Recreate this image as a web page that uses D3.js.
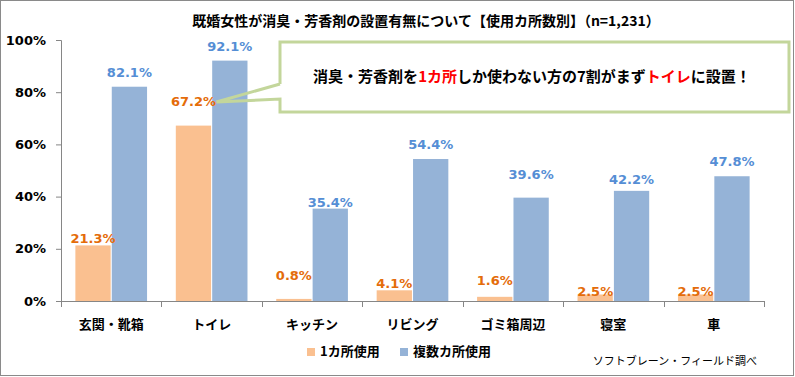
<!DOCTYPE html>
<html><head><meta charset="utf-8">
<script src="https://cdn.jsdelivr.net/npm/d3@7"></script>
<style>
html,body{margin:0;padding:0;background:#fff;}
svg{display:block;}
</style></head>
<body>
<svg id="chart" width="795" height="377"></svg>
<script>
// ---- data ----
const categories = ["玄関・靴箱","トイレ","キッチン","リビング","ゴミ箱周辺","寝室","車"];
const seriesNames = ["1カ所使用","複数カ所使用"];
const singleUse = [21.3, 67.2, 0.8, 4.1, 1.6, 2.5, 2.5];
const multiUse  = [82.1, 92.1, 35.4, 54.4, 39.6, 42.2, 47.8];
const yTicks = [0, 20, 40, 60, 80, 100];
const titleText = "既婚女性が消臭・芳香剤の設置有無について【使用カ所数別】（n=1,231）";
const sourceText = "ソフトブレーン・フィールド調べ";
const calloutParts = [["消臭・芳香剤を",false],["1カ所",true],["しか使わない方の7割がまず",false],["トイレ",true],["に設置！",false]];

// ---- layout (label nudges in px, not data) ----
const liftSingle = [2, 20, 19, 2, 12, -2, -2];
const liftMulti  = [10, 10, 2, 10, 19, 7, 10];

const svg = d3.select("#chart");
const W = 795, H = 377;
const colors = ["#FAC090", "#95B3D7"];
const labelColors = ["#E46C0A", "#558ED5"];
const jp = "'Noto Sans CJK JP', 'Noto Sans', sans-serif";
const num = "'DejaVu Sans', Verdana, sans-serif";

svg.append("rect").attr("x",0.5).attr("y",0.5).attr("width",W-2).attr("height",H-2)
  .attr("fill","#fff").attr("stroke","#8a8a8a");

const x0 = d3.scaleBand().domain(categories).range([61, 764]).paddingInner(0).paddingOuter(0);
const x1 = d3.scaleBand().domain([0,1]).range([0, x0.bandwidth()]).paddingInner(0.03).paddingOuter(0.395);
const y = d3.scaleLinear().domain([0, 100]).range([301, 40]);

// title
svg.append("text").attr("x", 426).attr("y", 26).attr("text-anchor","middle")
  .attr("font-family", jp).attr("font-weight","bold").attr("font-size",14).attr("fill","#000")
  .text(titleText);

// y axis
const yAxis = d3.axisLeft(y).tickValues(yTicks).tickFormat(d => d + "%").tickSize(5).tickPadding(10);
const gy = svg.append("g").attr("transform","translate(61,0)").call(yAxis);
gy.select(".domain").attr("stroke","#868686");
gy.selectAll(".tick line").attr("stroke","#868686");
gy.selectAll(".tick text").attr("font-family", num).attr("font-weight","bold").attr("font-size",13).attr("fill","#000");

// x axis
const gx = svg.append("g").attr("transform","translate(0,301)");
gx.append("line").attr("x1",61).attr("x2",764).attr("y1",0.5).attr("y2",0.5).attr("stroke","#868686");
const bounds = categories.map(c => x0(c)).concat([x0(categories[categories.length-1]) + x0.bandwidth()]);
gx.selectAll("line.tk").data(bounds).join("line").attr("class","tk")
  .attr("x1", d => Math.round(d)+0.5).attr("x2", d => Math.round(d)+0.5).attr("y1",0).attr("y2",6).attr("stroke","#868686");
gx.selectAll("text").data(categories).join("text")
  .attr("x", d => x0(d) + x0.bandwidth()/2).attr("y", 28).attr("text-anchor","middle")
  .attr("font-family", jp).attr("font-weight","bold").attr("font-size",13).attr("fill","#000")
  .text(d => d);

// bars
const series = [singleUse, multiUse];
const lifts = [liftSingle, liftMulti];
series.forEach((vals, s) => {
  svg.append("g").selectAll("rect").data(vals).join("rect")
    .attr("x", (d,i) => x0(categories[i]) + x1(s))
    .attr("width", x1.bandwidth())
    .attr("y", d => y(d))
    .attr("height", d => y(0) - y(d))
    .attr("fill", colors[s]);
});

// callout
const cg = svg.append("g");
cg.append("rect").attr("x",280).attr("y",42).attr("width",509).attr("height",70).attr("fill","#fff");
const tipX = x0(categories[1]) + x1(0) + x1.bandwidth()/2 + 23;
cg.append("path")
  .attr("d", `M280,84 L280,42 L789,42 L789,112 L280,112 L280,99 L${tipX},102 L280,84`)
  .attr("fill","none").attr("stroke","#C3D69B").attr("stroke-width",3).attr("stroke-linejoin","miter");
const ct = cg.append("text").attr("x", 532).attr("y", 82).attr("text-anchor","middle")
  .attr("font-family", jp).attr("font-weight","bold").attr("font-size",15);
calloutParts.forEach(([t, red]) => ct.append("tspan").attr("fill", red ? "#FF0000" : "#000").text(t));

// data labels
series.forEach((vals, s) => {
  svg.append("g").selectAll("text").data(vals).join("text")
    .attr("x", (d,i) => x0(categories[i]) + x1(s) + x1.bandwidth()/2)
    .attr("y", (d,i) => y(d) - lifts[s][i])
    .attr("text-anchor","middle")
    .attr("font-family", num).attr("font-weight","bold").attr("font-size",13)
    .attr("fill", labelColors[s])
    .text(d => d.toFixed(1) + "%");
});

// legend
const lg = svg.append("g");
const legX = [307, 400];
seriesNames.forEach((n, i) => {
  lg.append("rect").attr("x", legX[i]).attr("y", 348).attr("width", 8).attr("height", 8).attr("fill", colors[i]);
  lg.append("text").attr("x", legX[i] + 13).attr("y", 356).attr("font-family", jp).attr("font-weight","bold")
    .attr("font-size", 13).attr("fill","#000").text(n);
});

// source
svg.append("text").attr("x", 757).attr("y", 365).attr("text-anchor","end")
  .attr("font-family", jp).attr("font-size", 11).attr("fill","#000").text(sourceText);
</script>
</body></html>
